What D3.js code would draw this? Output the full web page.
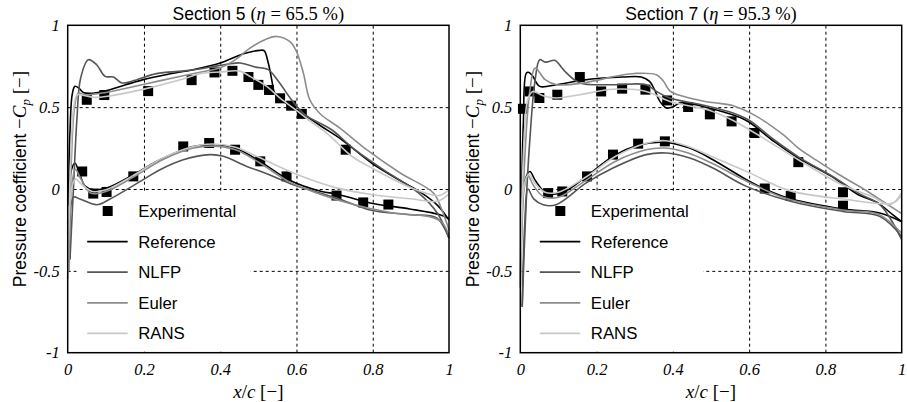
<!DOCTYPE html>
<html>
<head>
<meta charset="utf-8">
<script src="https://cdnjs.cloudflare.com/ajax/libs/d3/7.8.5/d3.min.js"></script>
<style>
    body { margin: 0; background: #fff; }
</style>
</head>
<body>
<svg id="chart" width="907" height="402"></svg>
<script>
// tick values
var gridX = [0.2, 0.4, 0.6, 0.8];
var gridY = [-0.5, 0, 0.5];
var xTicks = [0, 0.2, 0.4, 0.6, 0.8, 1];
var yTicks = [-1, -0.5, 0, 0.5, 1];

// legend
var legendNames = ["Experimental", "Reference", "NLFP", "Euler", "RANS"];
var seriesColors = ["#000000", "#555555", "#8c8c8c", "#c8c8c8"];

// ---- Section 5 (eta = 65.5 %) ----
var exp5Up = [[0.05,0.545],[0.096,0.574],[0.211,0.598],[0.325,0.665],[0.385,0.712],[0.432,0.722],[0.474,0.684],[0.50,0.636],[0.528,0.605],[0.557,0.554],[0.586,0.509],[0.614,0.459],[0.729,0.24]];
var exp5Lo = [[0.038,0.107],[0.067,-0.028],[0.102,-0.018],[0.172,0.077],[0.303,0.26],[0.371,0.281],[0.439,0.24],[0.505,0.169],[0.574,0.077],[0.705,-0.04],[0.775,-0.082],[0.841,-0.095]];

var ref5Up = [[0.002,-0.1],[0.006,0.35],[0.012,0.58],[0.019,0.627],[0.03,0.615],[0.041,0.59],[0.06,0.585],[0.093,0.596],[0.15,0.635],[0.198,0.668],[0.26,0.70],[0.329,0.729],[0.40,0.77],[0.461,0.826],[0.504,0.847],[0.515,0.845],[0.526,0.77],[0.535,0.668],[0.541,0.596],[0.548,0.566],[0.60,0.484],[0.666,0.382],[0.719,0.301],[0.797,0.159],[0.876,0.046],[0.928,-0.024],[0.97,-0.1],[1.0,-0.19]];
var ref5Lo = [[0.002,-0.1],[0.008,0.1],[0.019,0.159],[0.03,0.1],[0.045,0.02],[0.067,-0.004],[0.102,0.006],[0.172,0.087],[0.242,0.179],[0.329,0.26],[0.382,0.27],[0.439,0.25],[0.504,0.169],[0.579,0.057],[0.666,-0.015],[0.705,-0.03],[0.793,-0.085],[0.897,-0.122],[0.976,-0.157],[1.0,-0.18]];

var nlfp5Up = [[0.006,-0.43],[0.015,0.0],[0.024,0.42],[0.034,0.678],[0.054,0.79],[0.076,0.759],[0.098,0.688],[0.12,0.684],[0.142,0.648],[0.17,0.66],[0.233,0.705],[0.3,0.72],[0.35,0.735],[0.40,0.755],[0.452,0.77],[0.491,0.745],[0.526,0.729],[0.552,0.66],[0.587,0.545],[0.622,0.454],[0.692,0.362],[0.753,0.24],[0.841,0.098],[0.92,-0.024],[0.97,-0.15],[1.0,-0.3]];
var nlfp5Lo = [[0.006,-0.43],[0.015,-0.05],[0.032,-0.061],[0.076,-0.096],[0.111,-0.061],[0.198,0.057],[0.242,0.118],[0.303,0.179],[0.373,0.21],[0.408,0.2],[0.47,0.138],[0.517,0.098],[0.592,0.026],[0.705,-0.055],[0.793,-0.128],[0.897,-0.157],[0.968,-0.177],[1.0,-0.3]];

var euler5Up = [[0.003,-0.5],[0.01,0.2],[0.018,0.5],[0.028,0.585],[0.045,0.575],[0.1,0.59],[0.2,0.64],[0.3,0.69],[0.35,0.715],[0.4,0.74],[0.44,0.79],[0.478,0.861],[0.52,0.915],[0.548,0.932],[0.583,0.9],[0.60,0.84],[0.618,0.709],[0.635,0.545],[0.662,0.46],[0.714,0.372],[0.784,0.24],[0.872,0.098],[0.959,-0.024],[0.98,-0.12],[1.0,-0.25]];
var euler5Lo = [[0.003,-0.5],[0.01,0.0],[0.02,0.12],[0.035,0.06],[0.06,-0.025],[0.1,-0.015],[0.17,0.07],[0.25,0.18],[0.33,0.25],[0.38,0.262],[0.44,0.24],[0.5,0.165],[0.58,0.045],[0.66,-0.03],[0.75,-0.095],[0.85,-0.145],[0.95,-0.17],[0.98,-0.2],[1.0,-0.28]];

var rans5Up = [[0.0,-0.55],[0.008,0.2],[0.016,0.5],[0.025,0.575],[0.045,0.57],[0.07,0.56],[0.1,0.565],[0.2,0.61],[0.3,0.67],[0.347,0.705],[0.40,0.715],[0.452,0.72],[0.48,0.685],[0.522,0.627],[0.557,0.555],[0.6,0.48],[0.631,0.423],[0.68,0.34],[0.745,0.2],[0.806,0.118],[0.902,0.006],[0.955,-0.035],[0.975,-0.04],[1.0,-0.005]];
var rans5Lo = [[0.0,-0.55],[0.01,0.0],[0.02,0.06],[0.04,0.02],[0.065,-0.015],[0.1,-0.005],[0.17,0.08],[0.25,0.19],[0.33,0.26],[0.38,0.275],[0.44,0.255],[0.5,0.195],[0.6,0.09],[0.7,0.01],[0.8,-0.035],[0.9,-0.06],[0.97,-0.075],[1.0,-0.03]];

// ---- Section 7 (eta = 95.3 %) ----
var exp7Up = [[0.007,0.49],[0.025,0.596],[0.05,0.556],[0.097,0.576],[0.156,0.684],[0.212,0.596],[0.267,0.613],[0.328,0.607],[0.385,0.541],[0.44,0.501],[0.497,0.456],[0.554,0.413],[0.614,0.342],[0.729,0.164],[0.846,-0.02]];
var exp7Lo = [[0.073,-0.025],[0.11,-0.015],[0.175,0.077],[0.243,0.21],[0.309,0.277],[0.379,0.291],[0.641,0.003],[0.709,-0.043],[0.846,-0.102]];

var ref7Up = [[0.002,-0.3],[0.008,0.4],[0.016,0.709],[0.023,0.712],[0.033,0.688],[0.051,0.627],[0.094,0.637],[0.156,0.662],[0.217,0.678],[0.269,0.684],[0.317,0.684],[0.339,0.657],[0.352,0.607],[0.366,0.535],[0.383,0.495],[0.40,0.501],[0.418,0.525],[0.45,0.52],[0.484,0.501],[0.589,0.423],[0.659,0.301],[0.729,0.189],[0.816,0.077],[0.886,-0.035],[0.934,-0.08],[0.978,-0.16],[1.0,-0.2]];
var ref7Lo = [[0.002,-0.3],[0.012,0.05],[0.025,0.107],[0.04,0.05],[0.068,-0.024],[0.112,-0.02],[0.173,0.077],[0.243,0.199],[0.313,0.27],[0.379,0.285],[0.444,0.25],[0.505,0.179],[0.593,0.057],[0.645,-0.004],[0.711,-0.061],[0.846,-0.122],[0.942,-0.147],[1.0,-0.2]];

var nlfp7Up = [[0.005,-0.72],[0.015,-0.1],[0.025,0.3],[0.038,0.65],[0.051,0.79],[0.065,0.775],[0.077,0.78],[0.09,0.786],[0.121,0.709],[0.156,0.648],[0.243,0.637],[0.33,0.637],[0.357,0.596],[0.392,0.556],[0.484,0.51],[0.55,0.47],[0.6,0.42],[0.66,0.31],[0.73,0.195],[0.82,0.075],[0.89,-0.03],[0.94,-0.09],[0.97,-0.18],[1.0,-0.31]];
var nlfp7Lo = [[0.005,-0.72],[0.012,-0.2],[0.02,0.0],[0.035,-0.06],[0.06,-0.096],[0.094,-0.096],[0.173,0.037],[0.243,0.128],[0.33,0.21],[0.383,0.22],[0.444,0.189],[0.505,0.128],[0.593,0.016],[0.711,-0.076],[0.846,-0.137],[0.942,-0.167],[1.0,-0.29]];

var euler7Up = [[0.0,-0.6],[0.012,0.2],[0.025,0.6],[0.039,0.739],[0.065,0.668],[0.095,0.637],[0.165,0.648],[0.253,0.69],[0.3,0.706],[0.357,0.698],[0.375,0.66],[0.392,0.6],[0.427,0.566],[0.484,0.535],[0.515,0.525],[0.558,0.509],[0.615,0.45],[0.69,0.33],[0.729,0.25],[0.777,0.175],[0.834,0.09],[0.9,0.0],[0.96,-0.09],[1.0,-0.15]];
var euler7Lo = [[0.0,-0.6],[0.01,0.0],[0.02,0.08],[0.035,0.02],[0.06,-0.045],[0.1,-0.05],[0.17,0.05],[0.25,0.17],[0.33,0.24],[0.38,0.25],[0.44,0.22],[0.5,0.16],[0.6,0.04],[0.7,-0.06],[0.85,-0.13],[0.94,-0.155],[1.0,-0.27]];

var rans7Up = [[0.0,-0.6],[0.01,0.3],[0.02,0.55],[0.033,0.596],[0.06,0.57],[0.094,0.556],[0.156,0.576],[0.243,0.609],[0.33,0.596],[0.392,0.535],[0.497,0.48],[0.554,0.423],[0.615,0.342],[0.729,0.179],[0.834,0.037],[0.921,-0.045],[0.97,-0.095],[1.0,-0.024]];
var rans7Lo = [[0.0,-0.6],[0.01,0.02],[0.022,0.09],[0.04,0.03],[0.065,-0.02],[0.1,-0.02],[0.17,0.07],[0.25,0.2],[0.33,0.28],[0.38,0.295],[0.44,0.26],[0.5,0.2],[0.6,0.1],[0.706,-0.01],[0.846,-0.061],[0.977,-0.085],[1.0,-0.035]];

var sans = "'Liberation Sans', Arial, sans-serif";
var serif = "'Liberation Serif', 'Times New Roman', serif";

var svg = d3.select("#chart");
svg.append("rect").attr("width", 907).attr("height", 402).attr("fill", "#fff");

var plotTop = 25.3, plotBottom = 352.7;

var panels = [
    {x0: 67.7, x1: 449, section: "5", eta: "65.5", expUp: exp5Up, expLo: exp5Lo,
        series: [[ref5Up, ref5Lo], [nlfp5Up, nlfp5Lo], [euler5Up, euler5Lo], [rans5Up, rans5Lo]], labelX: 20},
    {x0: 520.3, x1: 901.7, section: "7", eta: "95.3", expUp: exp7Up, expLo: exp7Lo,
        series: [[ref7Up, ref7Lo], [nlfp7Up, nlfp7Lo], [euler7Up, euler7Lo], [rans7Up, rans7Lo]], labelX: 473}
];

panels.forEach(drawPanel);

function drawPanel(p) {
    var x = d3.scaleLinear().domain([0, 1]).range([p.x0, p.x1]);
    var y = d3.scaleLinear().domain([-1, 1]).range([plotBottom, plotTop]);
    var g = svg.append("g");

    // dashed grid
    g.append("g")
        .attr("transform", "translate(0," + plotBottom + ")")
        .call(d3.axisBottom(x).tickValues(gridX).tickSize(-(plotBottom - plotTop)).tickFormat(""))
        .call(styleGrid);
    g.append("g")
        .attr("transform", "translate(" + p.x0 + ",0)")
        .call(d3.axisLeft(y).tickValues(gridY).tickSize(-(p.x1 - p.x0)).tickFormat(""))
        .call(styleGrid);

    // legend background hides the grid
    g.append("rect")
        .attr("x", p.x0 + 9).attr("y", 192)
        .attr("width", 174).attr("height", plotBottom - 193)
        .attr("fill", "#fff");

    // experimental squares
    var pts = p.expUp.concat(p.expLo);
    g.append("g").selectAll("rect")
        .data(pts)
        .enter().append("rect")
        .attr("x", function (d) { return x(d[0]) - 5; })
        .attr("y", function (d) { return y(d[1]) - 5; })
        .attr("width", 10).attr("height", 10)
        .attr("fill", "#000");

    var line = d3.line()
        .x(function (d) { return x(d[0]); })
        .y(function (d) { return y(d[1]); })
        .curve(d3.curveCatmullRom.alpha(0.5));

    p.series.forEach(function (s, i) {
        s.forEach(function (branch) {
            g.append("path")
                .attr("d", line(branch))
                .attr("fill", "none")
                .attr("stroke", seriesColors[i])
                .attr("stroke-width", 1.6)
                .attr("stroke-linejoin", "round");
        });
    });

    // frame
    g.append("rect")
        .attr("x", p.x0).attr("y", plotTop)
        .attr("width", p.x1 - p.x0).attr("height", plotBottom - plotTop)
        .attr("fill", "none").attr("stroke", "#000").attr("stroke-width", 1.5);

    // tick labels
    g.append("g")
        .attr("transform", "translate(0," + plotBottom + ")")
        .call(d3.axisBottom(x).tickValues(xTicks).tickSize(0).tickPadding(11)
            .tickFormat(function (d) { return String(d); }))
        .call(styleTicks);
    g.append("g")
        .attr("transform", "translate(" + p.x0 + ",0)")
        .call(d3.axisLeft(y).tickValues(yTicks).tickSize(0).tickPadding(8)
            .tickFormat(function (d) { return String(d); }))
        .call(styleTicks);

    // legend entries
    legendNames.forEach(function (name, i) {
        var ly = 211 + i * 30.6;
        if (i === 0) {
            g.append("rect").attr("x", p.x0 + 40 - 5).attr("y", ly - 5)
                .attr("width", 10).attr("height", 10).attr("fill", "#000");
        } else {
            g.append("line")
                .attr("x1", p.x0 + 19.5).attr("x2", p.x0 + 60)
                .attr("y1", ly).attr("y2", ly)
                .attr("stroke", seriesColors[i - 1]).attr("stroke-width", 1.8);
        }
        g.append("text")
            .attr("x", p.x0 + 70.5).attr("y", ly)
            .attr("dy", "0.36em")
            .attr("font-family", sans).attr("font-size", 16.8)
            .text(name);
    });

    // title
    var cx = (p.x0 + p.x1) / 2;
    var t = g.append("text")
        .attr("x", cx).attr("y", 20)
        .attr("text-anchor", "middle")
        .attr("font-size", 17.5);
    t.append("tspan").attr("font-family", sans).text("Section " + p.section + " ");
    t.append("tspan").attr("font-family", serif).attr("font-size", 18.5).text("(");
    t.append("tspan").attr("font-family", serif).attr("font-size", 18.5).attr("font-style", "italic").text("η");
    t.append("tspan").attr("font-family", serif).attr("font-size", 18.5).text(" = " + p.eta + " %)");

    // x label
    var xl = g.append("text")
        .attr("x", cx).attr("y", 398)
        .attr("text-anchor", "middle")
        .attr("font-family", serif).attr("font-size", 19);
    xl.append("tspan").attr("font-style", "italic").text("x");
    xl.append("tspan").text("/");
    xl.append("tspan").attr("font-style", "italic").text("c");
    xl.append("tspan").text(" [\u2212]");

    // y label
    var yl = g.append("text")
        .attr("transform", "translate(" + (p.labelX + 6) + ",179) rotate(-90)")
        .attr("text-anchor", "middle")
        .attr("font-size", 17.5);
    yl.append("tspan").attr("font-family", sans).text("Pressure coefficient ");
    yl.append("tspan").attr("font-family", serif).attr("font-size", 19).text("\u2212");
    yl.append("tspan").attr("font-family", serif).attr("font-size", 19).attr("font-style", "italic").text("C");
    yl.append("tspan").attr("font-family", serif).attr("font-style", "italic")
        .attr("font-size", 13).attr("dy", 4).text("p");
    yl.append("tspan").attr("font-family", serif).attr("font-size", 19).attr("dy", -4).text(" [\u2212]");
}

function styleGrid(sel) {
    sel.select(".domain").remove();
    sel.selectAll("line")
        .attr("stroke", "#000")
        .attr("stroke-width", 1)
        .attr("stroke-dasharray", "3,3");
}

function styleTicks(sel) {
    sel.select(".domain").remove();
    sel.selectAll("text")
        .attr("font-family", serif)
        .attr("font-style", "italic")
        .attr("font-size", 16.5)
        .attr("fill", "#000");
}
</script>
</body>
</html>
